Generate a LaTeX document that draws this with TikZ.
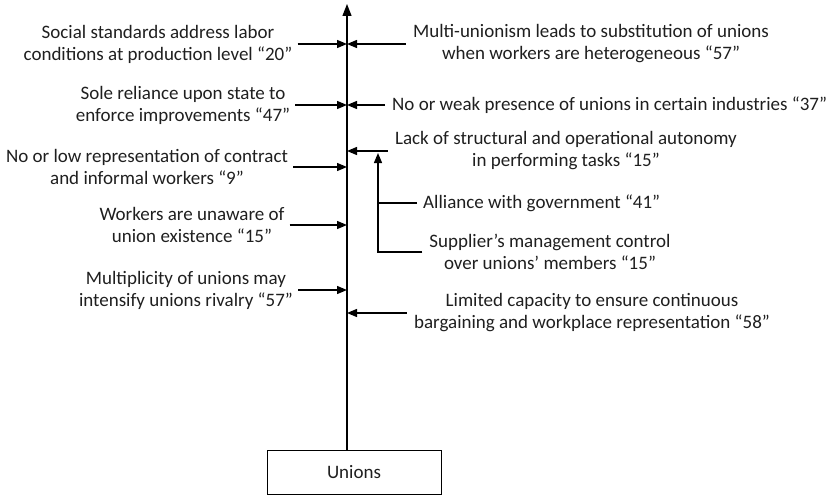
\documentclass[tikz,border=0pt]{standalone}
\usepackage{fontspec}
\setmainfont{Carlito}
\usetikzlibrary{arrows.meta}
\begin{document}
\begin{tikzpicture}[x=1pt,y=-1pt,
  lbl/.style={inner sep=0pt, align=center, font=\fontsize{19}{22}\selectfont, text=black!88},
  arr/.style={line width=1.3pt, -{Triangle[length=10pt,width=8pt]}},
  link/.style={line width=1.3pt},
  box/.style={draw, line width=0.9pt, minimum width=174pt, minimum height=44pt, inner sep=0pt, font=\fontsize{19}{22}\selectfont, text=black!88}]
\useasboundingbox (0,0) rectangle (832,495);

% central axis
\node[box] (U) at (354,472) {Unions};
\coordinate (top) at (347,4);
\draw[line width=1.3pt, -{Triangle[length=12pt,width=9pt]}] (U.north -| top) -- (top);

% factors on the left
\node[lbl] (L1) at (158,44) {Social standards address labor\\conditions at production level “20”};
\node[lbl] (L2) at (183,105) {Sole reliance upon state to\\enforce improvements “47”};
\node[lbl] (L3) at (147,167) {No or low representation of contract\\and informal workers “9”};
\node[lbl] (L4) at (192,225) {Workers are unaware of\\union existence “15”};
\node[lbl] (L5) at (186,290) {Multiplicity of unions may\\intensify unions rivalry “57”};
\foreach \n in {L1,L2,L3,L4,L5}
  \draw[arr] ([xshift=5pt]\n.east) -- (\n.east -| top);

% factors on the right
\node[lbl] (R1) at (591,44) {Multi-unionism leads to substitution of unions\\when workers are heterogeneous “57”};
\node[lbl, anchor=west] (R2) at (392,105) {No or weak presence of unions in certain industries “37”};
\node[lbl] (R3) at (566,151) {Lack of structural and operational autonomy\\in performing tasks “15”};
\node[lbl] (R6) at (592,313) {Limited capacity to ensure continuous\\bargaining and workplace representation “58”};
\foreach \n in {R1,R2,R3,R6}
  \draw[arr] ([xshift=-7pt]\n.west) -- (\n.west -| top);

% sub-factors feeding into R3
\coordinate (bx) at (378,0);
\node[lbl, anchor=west] (R4) at (423,203) {Alliance with government “41”};
\node[lbl] (R5) at (550,252) {Supplier’s management control\\over unions’ members “15”};
\draw[arr] ([xshift=-7pt]R5.west) -| ([yshift=-2pt]bx |- R3.west);
\draw[link] ([xshift=-6pt]R4.west) -- (R4.west -| bx);
\end{tikzpicture}
\end{document}
